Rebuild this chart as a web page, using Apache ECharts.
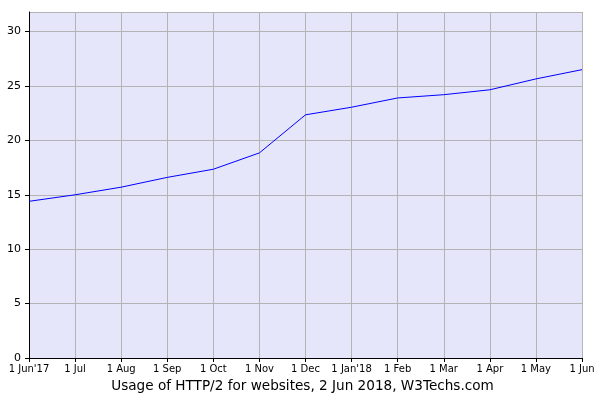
<!DOCTYPE html>
<html><head><meta charset="utf-8">
<script src="https://cdn.jsdelivr.net/npm/echarts@6/dist/echarts.min.js"></script>
<style>body{margin:0}#c{width:605px;height:401px}</style></head>
<body><div id="c"></div>
<script>
const categories=["1 Jun'17","1 Jul","1 Aug","1 Sep","1 Oct","1 Nov","1 Dec","1 Jan'18","1 Feb","1 Mar","1 Apr","1 May","1 Jun"];
const values=[14.4,15.0,15.7,16.6,17.35,18.85,22.35,23.05,23.9,24.2,24.65,25.65,26.5];
const title="Usage of HTTP/2 for websites, 2 Jun 2018, W3Techs.com";
const chart=echarts.init(document.getElementById('c'));
const f='DejaVu Sans, Verdana, sans-serif';
chart.setOption({
 animation:false,
 title:{text:title,left:'center',top:374,textStyle:{fontFamily:f,fontSize:13.6,fontWeight:'normal',color:'#000'}},
 grid:{left:29,right:23,top:12,bottom:43,show:true,backgroundColor:'#e6e6fa',borderWidth:0},
 xAxis:{type:'category',data:categories,boundaryGap:false,
  axisLine:{lineStyle:{color:'#000'}},axisTick:{show:true,length:4,lineStyle:{color:'#000'}},
  axisLabel:{fontFamily:f,fontSize:10,color:'#000',margin:6,interval:0},
  splitLine:{show:true,lineStyle:{color:'#b4b4b4'}}},
 yAxis:{type:'value',min:0,max:31.8,interval:5,
  axisLine:{show:true,lineStyle:{color:'#000'}},axisTick:{show:true,length:4,lineStyle:{color:'#000'}},
  axisLabel:{fontFamily:f,fontSize:11,color:'#000',showMaxLabel:false},
  splitLine:{lineStyle:{color:'#b4b4b4'}}},
 series:[{type:'line',data:values,symbol:'none',lineStyle:{color:'#0000ff',width:1}}]
});
</script></body></html>
